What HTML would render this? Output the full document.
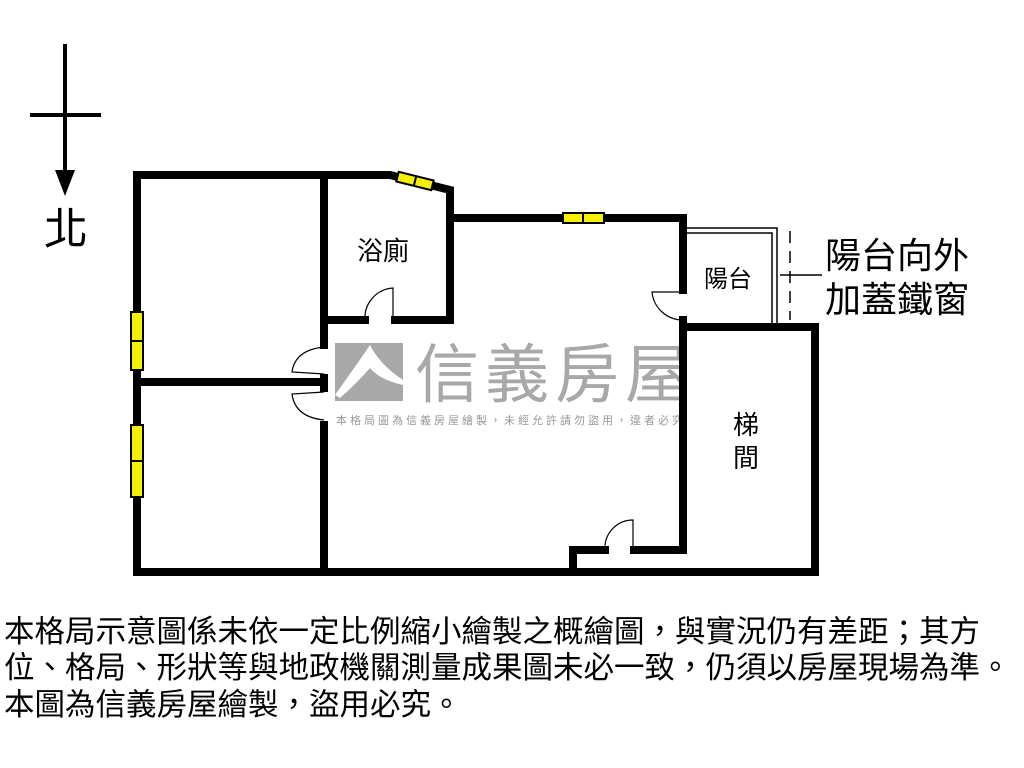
<!DOCTYPE html>
<html><head><meta charset="utf-8"><style>
body{margin:0;width:1024px;height:768px;background:#fff;overflow:hidden;position:relative;font-family:"Liberation Sans","Noto Sans CJK TC",sans-serif}
.t{position:absolute;left:4px;font-size:30.5px;line-height:36px;white-space:nowrap;color:#000}
</style></head><body>
<svg width="1024" height="768" style="position:absolute;left:0;top:0" font-family="Liberation Sans, Noto Sans CJK TC, sans-serif">
<!-- compass -->
<line x1="65" y1="44" x2="65" y2="175" stroke="#000" stroke-width="4"/>
<line x1="30" y1="115" x2="101" y2="115" stroke="#000" stroke-width="4"/>
<polygon points="55,170 75,170 65,196" fill="#000"/>
<text x="66" y="244" font-size="44" text-anchor="middle">北</text>
<!-- watermark -->
<rect x="335" y="343" width="68" height="58" fill="#a8a8a8"/>
<path d="M335,395 Q360,360 370,345 Q380,365 403,380 L403,385 Q380,380 370,368 Q355,385 340,398 Z" fill="#fff"/>
<text x="415" y="397" font-size="64" fill="#a8a8a8" letter-spacing="6">信義房屋</text>
<text x="336" y="424" font-size="11" fill="#999" letter-spacing="3">本格局圖為信義房屋繪製，未經允許請勿盜用，違者必究</text>
<!-- walls -->
<g stroke="#000" stroke-width="8" fill="none" stroke-linecap="square">
<polyline points="137,175 137,572 815,572 815,327 683,327 683,320"/>
<polyline points="137,175 390,175 450,190 450,320 395,320"/>
<line x1="365" y1="320" x2="324" y2="320"/>
<polyline points="450,218 683,218 683,290"/>
<line x1="683" y1="327" x2="683" y2="550"/>
<polyline points="683,550 634,550"/>
<polyline points="605,550 573,550 573,572"/>
<line x1="324" y1="175" x2="324" y2="345"/>
<line x1="137" y1="382" x2="324" y2="382"/>
<line x1="324" y1="378" x2="324" y2="388"/>
<line x1="324" y1="425" x2="324" y2="572"/>
</g>
<!-- balcony -->
<g stroke="#000" stroke-width="1.5" fill="none">
<polyline points="687,228 777,228 777,325"/>
<polyline points="687,233 772,233 772,325"/>
<line x1="790" y1="231" x2="790" y2="320" stroke-dasharray="12,8"/>
<line x1="780" y1="275" x2="822" y2="275"/>
</g>
<!-- windows -->
<g fill="#f5f000" stroke="#000" stroke-width="2">
<rect x="131" y="312" width="12" height="58"/><line x1="131" y1="341" x2="143" y2="341"/>
<rect x="131" y="425" width="12" height="72"/><line x1="131" y1="461" x2="143" y2="461"/>
<rect x="563" y="213" width="41" height="10"/><line x1="583" y1="213" x2="583" y2="223"/>
<g transform="rotate(14 415 181)"><rect x="397" y="176" width="36" height="10"/><line x1="415" y1="176" x2="415" y2="186"/></g>
</g>
<!-- doors -->
<g stroke="#000" stroke-width="1.2" fill="none">
<path d="M365,320 A30,30 0 0 1 393,288 L393,320"/>
<path d="M324,347 Q295,350 292,372 L324,374"/>
<path d="M324,420 Q295,417 292,394 L324,392"/>
<path d="M683,292 L652,292 A31,31 0 0 0 683,320"/>
<path d="M605,550 A28,28 0 0 1 633,520 L633,550"/>
</g>
<!-- labels -->
<text x="383" y="260" font-size="26" text-anchor="middle">浴廁</text>
<text x="728" y="287" font-size="24" text-anchor="middle">陽台</text>
<text x="746" y="434" font-size="26" text-anchor="middle">梯</text>
<text x="746" y="467" font-size="26" text-anchor="middle">間</text>
<text x="825" y="268" font-size="36">陽台向外</text>
<text x="825" y="312" font-size="36">加蓋鐵窗</text>
</svg>
<div class="t" style="top:614px">本格局示意圖係未依一定比例縮小繪製之概繪圖，與實況仍有差距；其方</div>
<div class="t" style="top:650px">位、格局、形狀等與地政機關測量成果圖未必一致，仍須以房屋現場為準。</div>
<div class="t" style="top:687px">本圖為信義房屋繪製，盜用必究。</div>
</body></html>
